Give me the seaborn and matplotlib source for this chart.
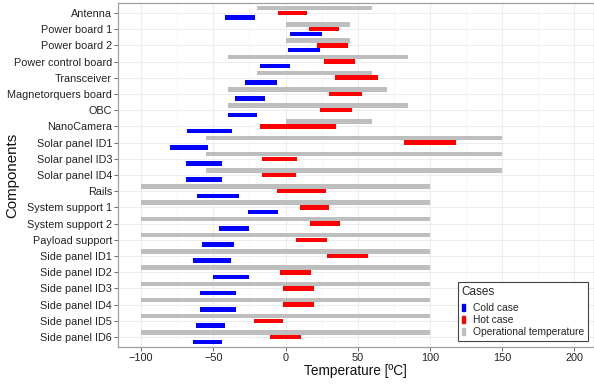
import matplotlib
matplotlib.use("Agg")
import matplotlib.pyplot as plt
import matplotlib.patches as mpatches
from matplotlib.ticker import MultipleLocator
import seaborn as sns
import numpy as np

components = ["Antenna", "Power board 1", "Power board 2", "Power control board",
              "Transceiver", "Magnetorquers board", "OBC", "NanoCamera",
              "Solar panel ID1", "Solar panel ID3", "Solar panel ID4", "Rails",
              "System support 1", "System support 2", "Payload support",
              "Side panel ID1", "Side panel ID2", "Side panel ID3", "Side panel ID4",
              "Side panel ID5", "Side panel ID6"]
op_min = [-20, 0, 0, -40, -20, -40, -40, 0, -55, -55, -55, -100, -100, -100, -100,
          -100, -100, -100, -100, -100, -100]
op_max = [60, 45, 45, 85, 60, 70, 85, 60, 150, 150, 150, 100, 100, 100, 100,
          100, 100, 100, 100, 100, 100]
hot_min = [-5, 16, 22, 27, 34, 30, 24, -18, 82, -16, -16, -6, 10, 17, 7,
           29, -4, -2, -2, -22, -11]
hot_max = [15, 37, 43, 48, 64, 53, 46, 35, 118, 8, 7, 28, 30, 38, 29,
           57, 18, 20, 20, -2, 11]
cold_min = [-42, 3, 2, -18, -28, -35, -40, -68, -80, -69, -69, -61, -26, -46, -58,
            -64, -50, -59, -59, -62, -64]
cold_max = [-21, 25, 24, 3, -6, -14, -20, -37, -54, -44, -44, -32, -5, -25, -36,
            -38, -25, -34, -34, -42, -44]
x_ticks = [-100, -50, 0, 50, 100, 150, 200]

sns.set_theme(style="whitegrid")
plt.rcParams['font.family'] = ['Liberation Sans', 'DejaVu Sans']

fig = plt.figure(figsize=(5.94, 3.85), dpi=100)
ax_w = 593.5 - 118.3
ax = fig.add_axes([118.3 / 594, 1 - 346.7 / 385, ax_w / 594, (346.7 - 3.3) / 385])

n = len(components)
pos = np.arange(n)
h = 0.28
series = [
    ("Operational temperature", op_min, op_max, "#BEBEBE", -0.29),
    ("Hot case", hot_min, hot_max, "#FF0000", 0.0),
    ("Cold case", cold_min, cold_max, "#0000FF", 0.29),
]
for name, lo, hi, col, off in series:
    lo = np.array(lo, float); hi = np.array(hi, float)
    ax.barh(pos + off, hi - lo, left=lo, height=h, color=col, edgecolor="none", zorder=3)

ax.set_xlim(-115.8, 213.3)
ax.set_ylim(n - 1 + 0.59, -0.59)
ax.set_yticks(pos)
ax.set_yticklabels(components)
ax.set_xticks(x_ticks)
ax.xaxis.set_minor_locator(MultipleLocator(25))
ax.grid(True, which="major", color="#EDEDED", linewidth=0.8, zorder=0)
ax.grid(True, which="minor", axis="x", color="#F5F5F5", linewidth=0.6, zorder=0)
ax.tick_params(axis="y", which="major", labelsize=7.8, length=3, width=0.6,
               color="#555555", labelcolor="#222222", pad=1.5, left=True)
ax.tick_params(axis="x", which="major", labelsize=7.8, length=3, width=0.6,
               color="#555555", labelcolor="#222222", pad=1.5, bottom=True)
ax.tick_params(axis="x", which="minor", length=0)
for s in ax.spines.values():
    s.set_visible(True)
    s.set_color("#A0A0A0")
    s.set_linewidth(0.9)
ax.set_facecolor("white")
ax.set_xlabel("Temperature [ºC]", fontsize=9.8, color="#111111", labelpad=1)
ax.set_ylabel("Components", fontsize=10.8, color="#111111")
ax.yaxis.set_label_coords((19.5 - 118.3) / ax_w, 0.5)

handles = [mpatches.Patch(color="#0000FF", label="Cold case"),
           mpatches.Patch(color="#FF0000", label="Hot case"),
           mpatches.Patch(color="#BEBEBE", label="Operational temperature")]
leg = ax.legend(handles=handles, title="Cases", loc="lower right",
                bbox_to_anchor=(1.0, 0.0), fontsize=7.4, title_fontsize=8.5,
                handlelength=0.35, handleheight=0.65, handletextpad=0.7,
                labelspacing=0.18, borderpad=0.4, frameon=True, fancybox=False,
                alignment="left", borderaxespad=0.55)
leg.get_frame().set_edgecolor("#444444")
leg.get_frame().set_linewidth(0.8)
leg.get_frame().set_alpha(1)
leg._legend_box.sep = 4

fig.savefig("out.png", dpi=100)
